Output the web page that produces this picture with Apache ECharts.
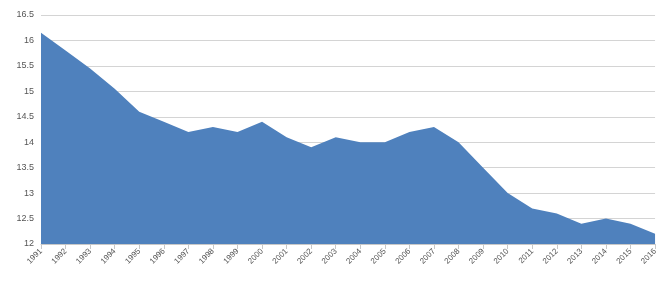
<!DOCTYPE html>
<html>
<head>
<meta charset="utf-8">
<script src="https://cdn.jsdelivr.net/npm/echarts@6/dist/echarts.min.js"></script>
<style>
  * { margin: 0; padding: 0; box-sizing: border-box; }
  html, body { width: 660px; height: 282px; background: #fff; }
  #chart { width: 660px; height: 282px; }
</style>
</head>
<body>
<div id="chart"></div>
<script>
const years = ['1991', '1992', '1993', '1994', '1995', '1996', '1997', '1998', '1999', '2000',
  '2001', '2002', '2003', '2004', '2005', '2006', '2007', '2008', '2009', '2010',
  '2011', '2012', '2013', '2014', '2015', '2016'];
const values = [16.15, 15.8, 15.45, 15.05, 14.6, 14.4, 14.2, 14.3, 14.2, 14.4,
  14.1, 13.9, 14.1, 14.0, 14.0, 14.2, 14.3, 14.0, 13.5, 13.0,
  12.7, 12.6, 12.4, 12.5, 12.4, 12.2];

const myChart = echarts.init(document.getElementById('chart'));
const option = {
  animation: false,
  grid: { left: 41, right: 2, top: 15, bottom: 38 },
  xAxis: {
    type: 'category',
    boundaryGap: false,
    data: years,
    axisLine: { lineStyle: { color: '#c8c8c8' } },
    axisTick: { show: true, lineStyle: { color: '#c8c8c8' } },
    axisLabel: { rotate: 45, fontSize: 8, color: '#555', fontFamily: 'Liberation Sans', margin: 6, interval: 0 }
  },
  yAxis: {
    type: 'value',
    min: 12,
    max: 16.5,
    interval: 0.5,
    axisLine: { show: false },
    axisTick: { show: false },
    splitLine: { lineStyle: { color: '#d4d4d4', width: 1 } },
    axisLabel: { fontSize: 9, color: '#555', fontFamily: 'Liberation Sans', margin: 7 }
  },
  series: [{
    type: 'line',
    data: values,
    symbol: 'none',
    lineStyle: { width: 0 },
    areaStyle: { color: '#4f81bd', opacity: 1 }
  }]
};
myChart.setOption(option);
</script>
</body>
</html>
